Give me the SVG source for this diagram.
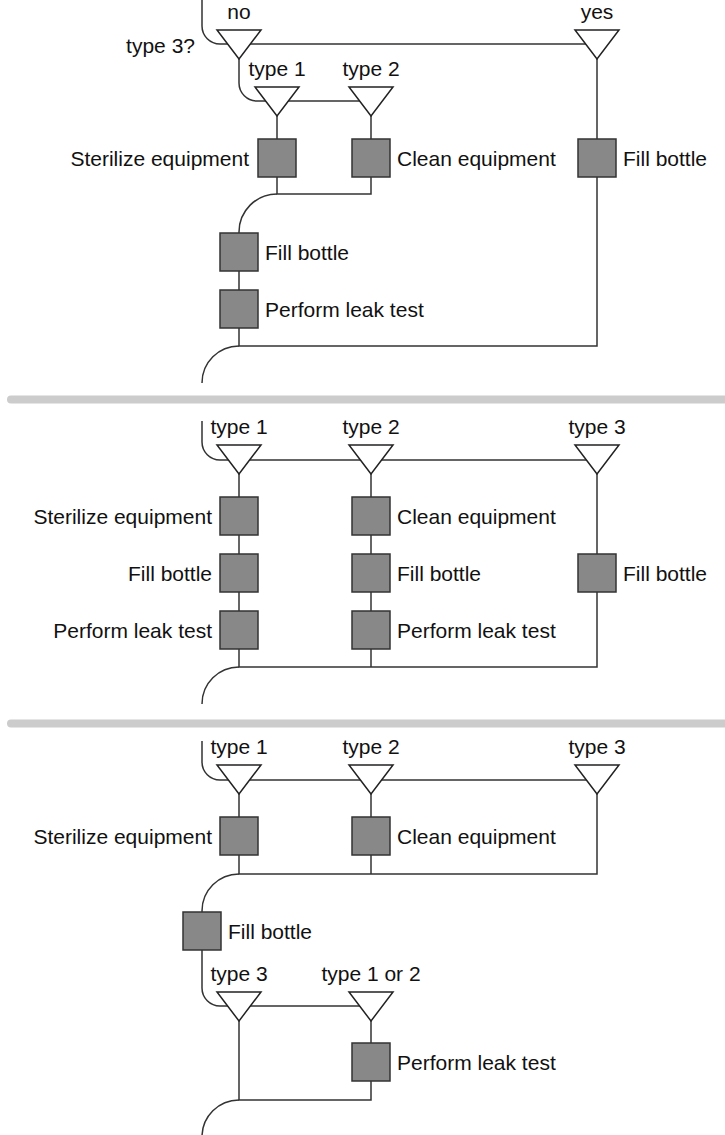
<svg xmlns="http://www.w3.org/2000/svg" width="725" height="1135" viewBox="0 0 725 1135">
  <style>
    .wire { fill: none; stroke: #333; stroke-width: 1.5; }
    .box { fill: #888; stroke: #333; stroke-width: 1.5; }
    .tri { fill: #fff; stroke: #222; stroke-width: 1.5; }
    .sep { fill: #ccc; }
    text { font-family: "Liberation Sans", Arial, Helvetica, sans-serif; font-size: 21px; fill: #111; }
    .mid { text-anchor: middle; }
    .end { text-anchor: end; }
  </style>
  <defs>
    <!-- decision gate: downward triangle, origin at top centre -->
    <polygon id="gate" class="tri" points="-22,0 22,0 0,29"/>
    <!-- process step -->
    <rect id="step" class="box" width="38" height="38"/>
  </defs>
  <rect width="725" height="1135" fill="#fff"/>

  <!-- panel separators -->
  <rect class="sep" x="7" y="395.5" width="730" height="8" rx="4"/>
  <rect class="sep" x="7" y="719.5" width="730" height="8" rx="4"/>

  <!-- connectors -->
  <g id="connectors" class="wire">
    <!-- panel 1 -->
    <path d="M202,0 V26 A18,18 0 0 0 220,44 H597"/>
    <path d="M239,59 V83 A18,18 0 0 0 257,101 H371"/>
    <path d="M277,115 V194 H371 V115"/>
    <path d="M277,194 A38,38 0 0 0 239,232 V346 H597 V59"/>
    <path d="M239,346 A37,37 0 0 0 202,383"/>
    <!-- panel 2 -->
    <path d="M202,421 V442 A18,18 0 0 0 220,460 H597"/>
    <path d="M239,474 V667 H597 V474"/>
    <path d="M371,474 V667"/>
    <path d="M239,667 A37,37 0 0 0 202,704"/>
    <!-- panel 3 -->
    <path d="M202,741 V762 A18,18 0 0 0 220,780 H597"/>
    <path d="M239,794 V874 H597 V794"/>
    <path d="M371,794 V874"/>
    <path d="M239,874 A37,37 0 0 0 202,911 V988 A18,18 0 0 0 220,1006 H371"/>
    <path d="M239,1021 V1100 H371 V1021"/>
    <path d="M239,1100 A37,37 0 0 0 202,1137"/>
  </g>

  <!-- panel 1: nested decisions -->
  <g id="p1-type3">
    <use href="#gate" x="239" y="30"/>
    <text class="mid" x="239" y="19">no</text>
    <text class="end" x="195" y="53">type 3?</text>
  </g>
  <g id="p1-yes">
    <use href="#gate" x="597" y="30"/>
    <text class="mid" x="597" y="19">yes</text>
  </g>
  <g id="p1-type1">
    <use href="#gate" x="277" y="87"/>
    <text class="mid" x="277" y="76">type 1</text>
  </g>
  <g id="p1-type2">
    <use href="#gate" x="371" y="87"/>
    <text class="mid" x="371" y="76">type 2</text>
  </g>
  <g id="p1-sterilize">
    <use href="#step" x="258" y="139"/>
    <text class="end" x="249" y="166">Sterilize equipment</text>
  </g>
  <g id="p1-clean">
    <use href="#step" x="352" y="139"/>
    <text x="397" y="166">Clean equipment</text>
  </g>
  <g id="p1-fill3">
    <use href="#step" x="578" y="139"/>
    <text x="623" y="166">Fill bottle</text>
  </g>
  <g id="p1-fill">
    <use href="#step" x="220" y="233"/>
    <text x="265" y="260">Fill bottle</text>
  </g>
  <g id="p1-leak">
    <use href="#step" x="220" y="290"/>
    <text x="265" y="317">Perform leak test</text>
  </g>

  <!-- panel 2: one branch per type -->
  <g id="p2-type1">
    <use href="#gate" x="239" y="445"/>
    <text class="mid" x="239" y="434">type 1</text>
  </g>
  <g id="p2-type2">
    <use href="#gate" x="371" y="445"/>
    <text class="mid" x="371" y="434">type 2</text>
  </g>
  <g id="p2-type3">
    <use href="#gate" x="597" y="445"/>
    <text class="mid" x="597" y="434">type 3</text>
  </g>
  <g id="p2-sterilize">
    <use href="#step" x="220" y="497"/>
    <text class="end" x="212" y="524">Sterilize equipment</text>
  </g>
  <g id="p2-fill1">
    <use href="#step" x="220" y="554"/>
    <text class="end" x="212" y="581">Fill bottle</text>
  </g>
  <g id="p2-leak1">
    <use href="#step" x="220" y="611"/>
    <text class="end" x="212" y="638">Perform leak test</text>
  </g>
  <g id="p2-clean">
    <use href="#step" x="352" y="497"/>
    <text x="397" y="524">Clean equipment</text>
  </g>
  <g id="p2-fill2">
    <use href="#step" x="352" y="554"/>
    <text x="397" y="581">Fill bottle</text>
  </g>
  <g id="p2-leak2">
    <use href="#step" x="352" y="611"/>
    <text x="397" y="638">Perform leak test</text>
  </g>
  <g id="p2-fill3">
    <use href="#step" x="578" y="554"/>
    <text x="623" y="581">Fill bottle</text>
  </g>

  <!-- panel 3: shared fill step -->
  <g id="p3-type1">
    <use href="#gate" x="239" y="765"/>
    <text class="mid" x="239" y="754">type 1</text>
  </g>
  <g id="p3-type2">
    <use href="#gate" x="371" y="765"/>
    <text class="mid" x="371" y="754">type 2</text>
  </g>
  <g id="p3-type3">
    <use href="#gate" x="597" y="765"/>
    <text class="mid" x="597" y="754">type 3</text>
  </g>
  <g id="p3-sterilize">
    <use href="#step" x="220" y="817"/>
    <text class="end" x="212" y="844">Sterilize equipment</text>
  </g>
  <g id="p3-clean">
    <use href="#step" x="352" y="817"/>
    <text x="397" y="844">Clean equipment</text>
  </g>
  <g id="p3-fill">
    <use href="#step" x="183" y="912"/>
    <text x="228" y="939">Fill bottle</text>
  </g>
  <g id="p3-skip">
    <use href="#gate" x="239" y="992"/>
    <text class="mid" x="239" y="981">type 3</text>
  </g>
  <g id="p3-test">
    <use href="#gate" x="371" y="992"/>
    <text class="mid" x="371" y="981">type 1 or 2</text>
  </g>
  <g id="p3-leak">
    <use href="#step" x="352" y="1043"/>
    <text x="397" y="1070">Perform leak test</text>
  </g>
</svg>
